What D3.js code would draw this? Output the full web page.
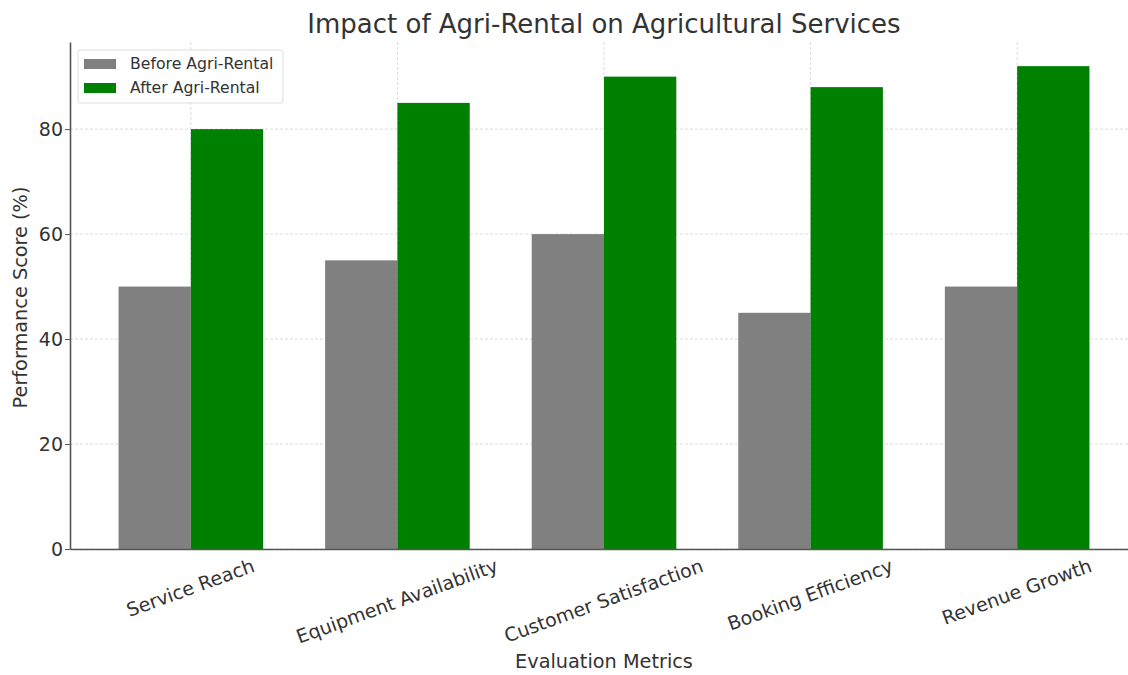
<!DOCTYPE html>
<html>
<head>
<meta charset="utf-8">
<script src="https://cdn.jsdelivr.net/npm/d3@7"></script>
<style>
  body { margin: 0; background: #fff; }
  svg, svg text { font-family: "DejaVu Sans", sans-serif; }
  .grid line { stroke: #dcdcdc; stroke-dasharray: 3,2; stroke-width: 1; }
  .axis text { fill: #333; }
  .axis path, .axis line { stroke: #555; }
</style>
</head>
<body>
<div id="chart"></div>
<script>
const categories = ['Service Reach', 'Equipment Availability', 'Customer Satisfaction', 'Booking Efficiency', 'Revenue Growth'];
const seriesNames = ['Before Agri-Rental', 'After Agri-Rental'];
const beforeValues = [50, 55, 60, 45, 50];
const afterValues = [80, 85, 90, 88, 92];
const yTicks = [0, 20, 40, 60, 80];
const colors = ['#808080', '#008000'];

const width = 1128, height = 675;
const margin = { top: 42, right: -10, bottom: 126, left: 70 };
const innerW = width - margin.left - margin.right;
const innerH = height - margin.top - margin.bottom;
const tickFont = 19;
const labelAngle = 20;

const data = categories.map((c, i) => ({ cat: c, values: [beforeValues[i], afterValues[i]] }));

const svg = d3.select('#chart').append('svg')
  .attr('width', width)
  .attr('height', height);

const g = svg.append('g')
  .attr('transform', `translate(${margin.left}, ${margin.top})`);

// matplotlib-style limits: bars of width 0.35, 5% margins
const x0 = d3.scaleBand()
  .domain(categories)
  .range([0, innerW])
  .paddingInner(0.3)
  .paddingOuter(0.235);

const x1 = d3.scaleBand()
  .domain(seriesNames)
  .range([0, x0.bandwidth()]);

const yMax = d3.max(afterValues.concat(beforeValues)) * 1.05;
const y = d3.scaleLinear().domain([0, yMax]).range([innerH, 0]);

// Grid lines
const grid = g.append('g').attr('class', 'grid');
grid.selectAll('.hgrid').data(yTicks).enter().append('line')
  .attr('x1', 0).attr('x2', innerW)
  .attr('y1', d => y(d)).attr('y2', d => y(d));
grid.selectAll('.vgrid').data(categories).enter().append('line')
  .attr('x1', d => x0(d) + x0.bandwidth() / 2)
  .attr('x2', d => x0(d) + x0.bandwidth() / 2)
  .attr('y1', 0).attr('y2', innerH);

// Bars
const groups = g.selectAll('.bar-group')
  .data(data)
  .enter().append('g')
  .attr('class', 'bar-group')
  .attr('transform', d => `translate(${x0(d.cat)}, 0)`);

groups.selectAll('rect')
  .data(d => d.values.map((v, i) => ({ key: seriesNames[i], value: v, idx: i })))
  .enter().append('rect')
  .attr('x', d => x1(d.key))
  .attr('y', d => y(d.value))
  .attr('width', x1.bandwidth())
  .attr('height', d => innerH - y(d.value))
  .attr('fill', d => colors[d.idx]);

// Y axis
const yAxis = g.append('g')
  .attr('class', 'axis y-axis')
  .call(d3.axisLeft(y).tickValues(yTicks).tickSize(5).tickPadding(2).tickSizeOuter(0));
yAxis.attr('font-family', null);
yAxis.selectAll('text').style('font-size', tickFont + 'px');
yAxis.select('.domain').attr('stroke-width', 1.6);

// X axis
const xAxis = g.append('g')
  .attr('class', 'axis x-axis')
  .attr('transform', `translate(0, ${innerH})`)
  .call(d3.axisBottom(x0).tickSize(0).tickSizeOuter(0));
xAxis.attr('font-family', null);
xAxis.select('.domain').attr('stroke-width', 1.6);

// Rotated labels: top of the rotated box sits just below the axis (like matplotlib ha='center')
const rad = labelAngle * Math.PI / 180;
xAxis.selectAll('.tick text')
  .style('font-size', tickFont + 'px')
  .attr('text-anchor', 'middle')
  .attr('dy', null)
  .attr('y', 0)
  .attr('dominant-baseline', 'middle')
  .attr('transform', function() {
    const len = this.getComputedTextLength();
    const boxH = len * Math.sin(rad) + tickFont * 1.0 * Math.cos(rad);
    return `translate(0, ${8 + boxH / 2}) rotate(${-labelAngle})`;
  });

// Title
svg.append('text')
  .attr('x', margin.left + innerW / 2)
  .attr('y', 33)
  .attr('text-anchor', 'middle')
  .attr('fill', '#333')
  .style('font-size', '26px')
  .text('Impact of Agri-Rental on Agricultural Services');

// Axis labels
svg.append('text')
  .attr('x', margin.left + innerW / 2)
  .attr('y', 668)
  .attr('text-anchor', 'middle')
  .attr('fill', '#333')
  .style('font-size', '19.3px')
  .text('Evaluation Metrics');

svg.append('text')
  .attr('transform', `translate(27, ${margin.top + innerH / 2 + 2}) rotate(-90)`)
  .attr('text-anchor', 'middle')
  .attr('fill', '#333')
  .style('font-size', '19.3px')
  .text('Performance Score (%)');

// Legend
const legend = svg.append('g').attr('transform', 'translate(78, 50)');
legend.append('rect')
  .attr('width', 205).attr('height', 53)
  .attr('fill', '#fff').attr('fill-opacity', 0.8)
  .attr('stroke', '#ddd').attr('rx', 2);
seriesNames.forEach((name, i) => {
  const row = legend.append('g').attr('transform', `translate(0, ${9 + i * 24})`);
  row.append('rect')
    .attr('x', 6).attr('y', 0)
    .attr('width', 32).attr('height', 10)
    .attr('fill', colors[i]);
  row.append('text')
    .attr('x', 52).attr('y', 5)
    .attr('dominant-baseline', 'middle')
    .attr('fill', '#333')
    .style('font-size', '15.7px')
    .text(name);
});
</script>
</body>
</html>
